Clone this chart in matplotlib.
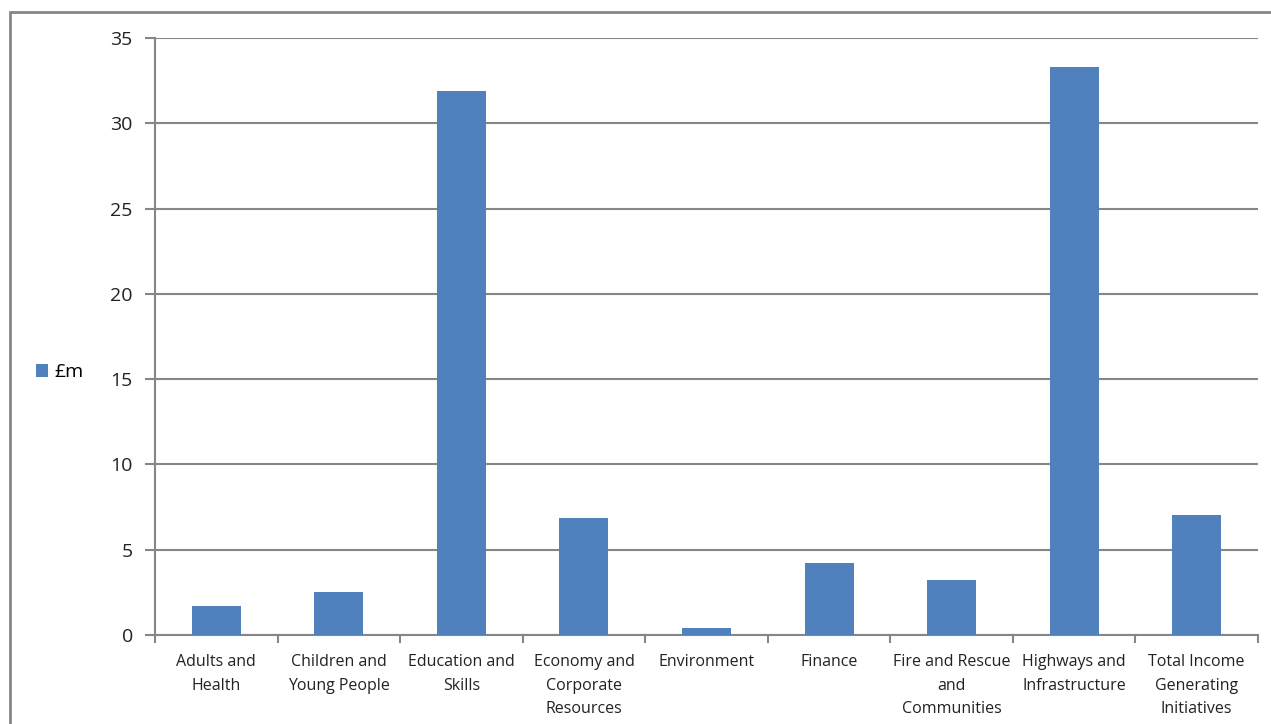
import matplotlib
matplotlib.use("Agg")
import matplotlib.pyplot as plt
from matplotlib.patches import Rectangle
from matplotlib.ticker import FixedLocator, NullFormatter
import numpy as np

categories = ["Adults and\nHealth", "Children and\nYoung People", "Education and\nSkills",
              "Economy and\nCorporate\nResources", "Environment", "Finance",
              "Fire and Rescue\nand\nCommunities", "Highways and\nInfrastructure",
              "Total Income\nGenerating\nInitiatives"]
values = [1.7, 2.55, 31.9, 6.88, 0.42, 4.25, 3.25, 33.3, 7.05]
series_name = "£m"
yticks = [0, 5, 10, 15, 20, 25, 30, 35]

plt.rcParams['font.family'] = ['Open Sans', 'DejaVu Sans']

W, H = 1271, 724
fig = plt.figure(figsize=(W/100, H/100), dpi=100)
fig.patch.set_facecolor("white")

# outer chart border
fig.add_artist(Rectangle((10/W, -0.05), 1.1, 1 - 12/H + 0.05, transform=fig.transFigure,
                         fill=False, edgecolor="#868686", linewidth=2))

left, right, top, bottom = 155/W, 1258/W, 1 - 38/H, 1 - 635/H
ax = fig.add_axes([left, bottom, right - left, top - bottom])

x = np.arange(len(categories))
bars = ax.bar(x, values, width=0.4, color="#4F81BD", label=series_name, zorder=3)

ax.set_xlim(-0.5, len(categories) - 0.5)
ax.set_ylim(0, 35)
ax.set_yticks(yticks)
ax.set_yticklabels([str(v) for v in yticks], fontsize=14, color="#222222")
ax.yaxis.grid(True, color="#868686", linewidth=1.5, zorder=0)
ax.tick_params(axis="y", length=7, width=1.5, color="#868686", pad=9)

ax.set_xticks(x)
ax.set_xticklabels(categories, fontsize=11.5, color="#222222", linespacing=1.6)
ax.tick_params(axis="x", which="major", length=0, pad=14)
ax.xaxis.set_minor_locator(FixedLocator(np.arange(-0.5, len(categories), 1.0)))
ax.xaxis.set_minor_formatter(NullFormatter())
ax.tick_params(axis="x", which="minor", length=6, width=1.5, color="#868686")

for s in ["top", "right"]:
    ax.spines[s].set_visible(False)
for s in ["left", "bottom"]:
    ax.spines[s].set_color("#868686")
    ax.spines[s].set_linewidth(1.5)

leg = fig.legend(handles=[bars], labels=[series_name], loc="center left",
                 bbox_to_anchor=(26/W, 1 - 372/H), frameon=False, fontsize=14,
                 handlelength=0.65, handleheight=0.65, handletextpad=0.3, borderpad=0)

fig.savefig("out.png", dpi=100)
